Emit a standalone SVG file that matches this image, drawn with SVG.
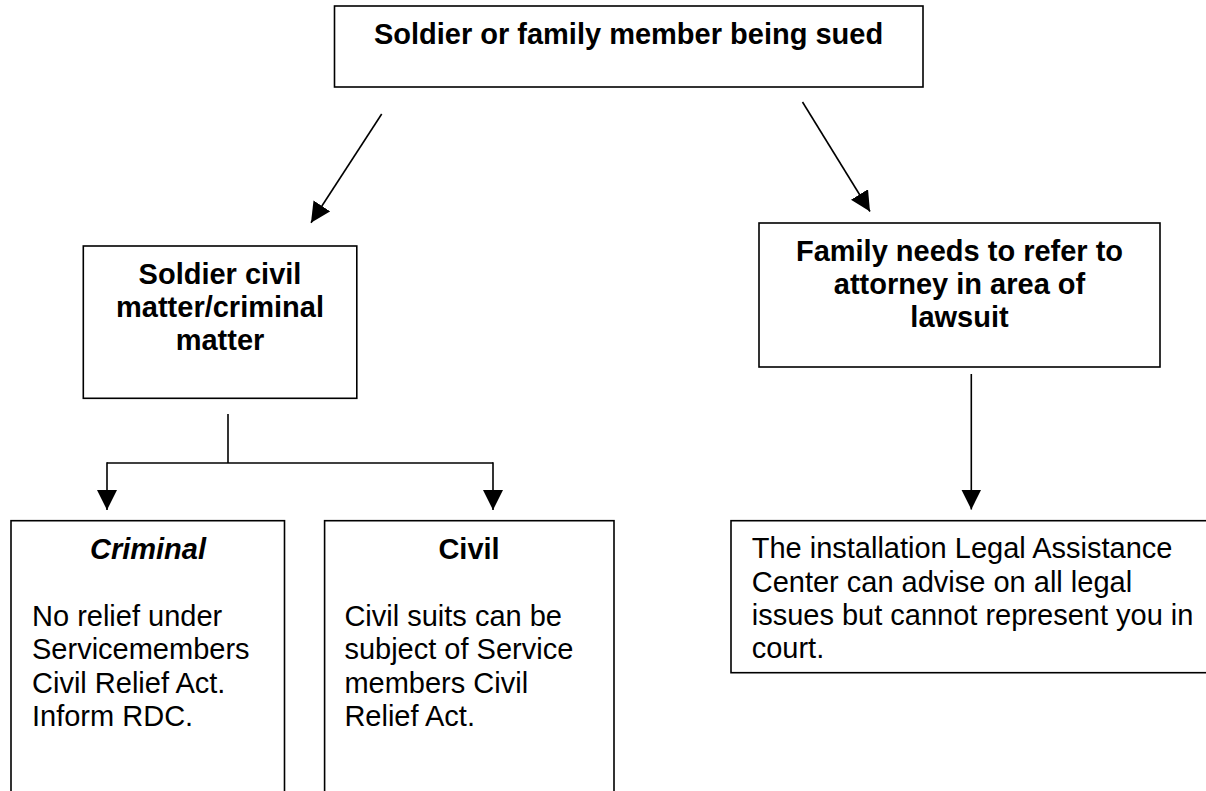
<svg xmlns="http://www.w3.org/2000/svg" width="1206" height="791" viewBox="0 0 1206 791">
<style>
.box{fill:#fff;stroke:#000;stroke-width:1.6}
.conn{fill:none;stroke:#000;stroke-width:1.6}
text{font-family:"Liberation Sans",Arial,sans-serif;font-size:29px;fill:#000}
.b{font-weight:bold}
.bi{font-weight:bold;font-style:italic}
.c{text-anchor:middle}
</style>
<defs>
<marker id="ah" viewBox="0 0 20 20" refX="20" refY="10" markerWidth="20" markerHeight="20" markerUnits="userSpaceOnUse" orient="auto">
<path d="M0,0 L20,10 L0,20 z" fill="#000"/>
</marker>
</defs>
<rect width="1206" height="791" fill="#fff"/>
<g id="connectors">
<line class="conn" x1="381.7" y1="114" x2="311" y2="222.7" marker-end="url(#ah)"/>
<line class="conn" x1="802.5" y1="102" x2="870" y2="211.5" marker-end="url(#ah)"/>
<line class="conn" x1="228" y1="414" x2="228" y2="463"/>
<line class="conn" x1="107" y1="463" x2="493" y2="463"/>
<line class="conn" x1="107" y1="462.2" x2="107" y2="510" marker-end="url(#ah)"/>
<line class="conn" x1="493" y1="462.2" x2="493" y2="510" marker-end="url(#ah)"/>
<line class="conn" x1="971.3" y1="374" x2="971.3" y2="509.5" marker-end="url(#ah)"/>
</g>
<g id="node-sued">
<rect class="box" x="334.5" y="6" width="588.5" height="81"/>
<text class="b c" x="628.5" y="43.5">Soldier or family member being sued</text>
</g>
<g id="node-soldier">
<rect class="box" x="83.3" y="246" width="273.5" height="152.3"/>
<text class="b c" x="220" y="284">Soldier civil</text>
<text class="b c" x="220" y="317">matter/criminal</text>
<text class="b c" x="220" y="350">matter</text>
</g>
<g id="node-family">
<rect class="box" x="759" y="223" width="401" height="144"/>
<text class="b c" x="959.5" y="261">Family needs to refer to</text>
<text class="b c" x="959.5" y="294.3">attorney in area of</text>
<text class="b c" x="959.5" y="327">lawsuit</text>
</g>
<g id="node-criminal">
<rect class="box" x="11" y="520.7" width="273.5" height="280"/>
<text class="bi c" x="148" y="558.5">Criminal</text>
<text x="32" y="626">No relief under</text>
<text x="32" y="659.3">Servicemembers</text>
<text x="32" y="692.6">Civil Relief Act.</text>
<text x="32" y="726">Inform RDC.</text>
</g>
<g id="node-civil">
<rect class="box" x="324.6" y="520.7" width="289.4" height="280"/>
<text class="b c" x="469" y="558.5">Civil</text>
<text x="344.4" y="626">Civil suits can be</text>
<text x="344.4" y="659.3">subject of Service</text>
<text x="344.4" y="692.6">members Civil</text>
<text x="344.4" y="726">Relief Act.</text>
</g>
<g id="node-lac">
<rect class="box" x="731" y="520.7" width="490" height="152"/>
<text x="751.7" y="558.3">The installation Legal Assistance</text>
<text x="751.7" y="591.6">Center can advise on all legal</text>
<text x="751.7" y="625">issues but cannot represent you in</text>
<text x="751.7" y="658.3">court.</text>
</g>
</svg>
